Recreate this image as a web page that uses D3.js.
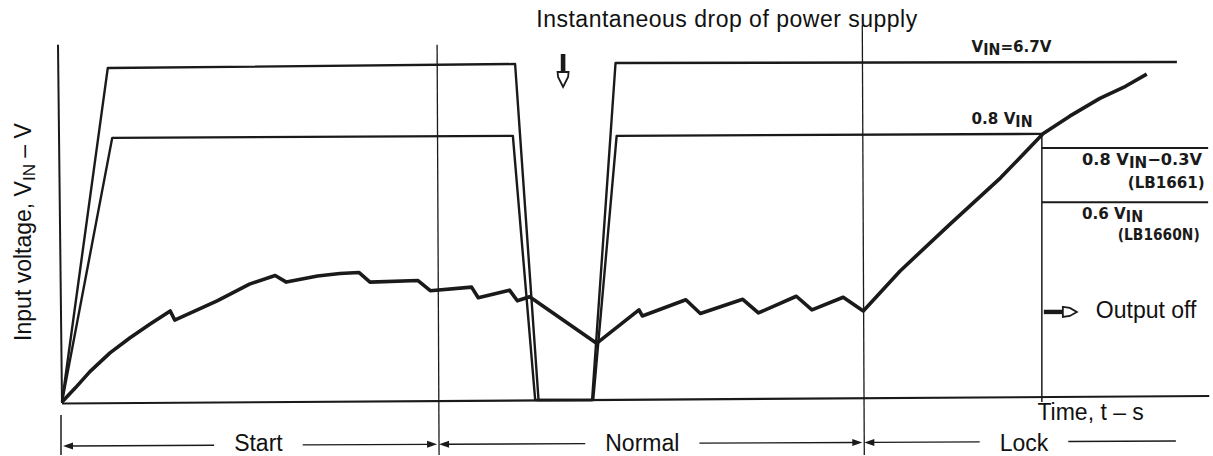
<!DOCTYPE html>
<html lang="en-us">
<head>
<meta charset="utf-8">
<title>Input voltage vs time</title>
<script src="https://d3js.org/d3.v7.min.js"></script>
<style>
  body { margin: 0; background: #fff; }
  .sans { font-family: "Liberation Sans", Arial, sans-serif; font-size: 23px; fill: #111; }
  .tech { font-family: "DejaVu Sans", sans-serif; font-weight: bold; font-size: 16px; fill: #1a1a1a; }
</style>
</head>
<body>
<script>
var width = 1213, height = 456;
var ink = "#1a1a1a";

// time t (s, arbitrary units), voltage v (V)
var vinPulse   = [[0,0],[0.41,6.60],[4.06,6.68],[4.27,0.04],[4.75,0.04],[4.96,6.70],[9.99,6.72]];
var vin08Pulse = [[0,0],[0.45,5.22],[4.04,5.26],[4.24,0.04],[4.76,0.04],[4.97,5.26],[8.78,5.30]];

// detected voltage (thick curve)
var vDetect = [
  [0,0],[0.12,0.28],[0.25,0.60],[0.43,0.97],[0.61,1.27],[0.79,1.54],[0.97,1.80],[1.01,1.62],
  [1.39,2.00],[1.68,2.33],[1.91,2.50],[2.01,2.37],[2.29,2.49],[2.49,2.54],[2.66,2.56],[2.76,2.37],
  [3.19,2.40],[3.30,2.20],[3.67,2.27],[3.73,2.06],[4.01,2.21],[4.08,2.00],[4.19,2.08],[4.79,1.16],
  [5.17,1.82],[5.20,1.70],[5.59,2.02],[5.72,1.75],[6.10,2.03],[6.24,1.76],[6.58,2.09],[6.72,1.82],
  [7.00,2.07],[7.18,1.80],[7.51,2.59],[7.96,3.52],[8.41,4.43],[8.79,5.30],[9.03,5.65],[9.30,6.00],
  [9.53,6.24],[9.72,6.48]
];

var lockT = 8.78;               // 0.8 VIN reached -> output off
var thresholds = [5.02, 3.95];  // 0.8 VIN - 0.3V, 0.6 VIN
var thresholdEnd = 10.27;
var dividers = [{t: 3.37, top: 7.06}, {t: 7.18, top: 7.45}];
var dropT = 4.49;               // instantaneous drop marker
var outputOffV = 1.78;

var phases = [
  {name: "Start",  t0: 0,    t1: 3.37, labelT: 1.76, endArrow: true},
  {name: "Normal", t0: 3.37, t1: 7.18, labelT: 5.20, endArrow: true},
  {name: "Lock",   t0: 7.18, t1: 9.99, labelT: 8.62, endArrow: false}
];

var techLabels = [
  {parts: [["V"],["IN",1],["=6.7V"]],          t: 8.15, v: 6.92, w: 80},
  {parts: [["0.8 V"],["IN",1]],                t: 8.15, v: 5.50, w: 61},
  {parts: [["0.8 V"],["IN",1],["\u22120.3V"]], t: 9.14, v: 4.68, w: 120},
  {parts: [["(LB1661)"]],                      t: 9.55, v: 4.23, w: 77, fs: 14},
  {parts: [["0.6 V"],["IN",1]],                t: 9.14, v: 3.62, w: 61},
  {parts: [["(LB1660N)"]],                     t: 9.46, v: 3.20, w: 82, fs: 14}
];

var x = d3.scaleLinear().domain([0, 10]).range([62, 1178]);
var y = d3.scaleLinear().domain([0, 6.7]).range([402, 63]);

var svg = d3.select("body").append("svg")
    .attr("width", width)
    .attr("height", height);

var line = d3.line()
    .x(function(d) { return x(d[0]); })
    .y(function(d) { return y(d[1]); });

// axes (hand drawn look: slight tilt)
svg.append("line")
    .attr("x1", x(0)).attr("y1", y(0) + 1)
    .attr("x2", x(0) - 4).attr("y2", y(7.06))
    .attr("stroke", ink).attr("stroke-width", 2);
svg.append("line")
    .attr("x1", x(0)).attr("y1", y(0) + 1.5)
    .attr("x2", x(10.28)).attr("y2", y(0) - 6)
    .attr("stroke", ink).attr("stroke-width", 2.2);

// phase dividers
dividers.forEach(function(d) {
  svg.append("line")
      .attr("x1", x(d.t) - 1).attr("y1", y(d.top))
      .attr("x2", x(d.t) + 1).attr("y2", 455)
      .attr("stroke", ink).attr("stroke-width", 1.3);
});

// output off line and thresholds
svg.append("line")
    .attr("x1", x(lockT)).attr("y1", y(5.30))
    .attr("x2", x(lockT)).attr("y2", y(0))
    .attr("stroke", ink).attr("stroke-width", 1.5);
thresholds.forEach(function(v) {
  svg.append("line")
      .attr("x1", x(lockT)).attr("y1", y(v))
      .attr("x2", x(thresholdEnd)).attr("y2", y(v))
      .attr("stroke", ink).attr("stroke-width", 2);
});

// supply pulses
[vinPulse, vin08Pulse].forEach(function(p) {
  svg.append("path")
      .datum(p)
      .attr("d", line)
      .attr("fill", "none")
      .attr("stroke", ink)
      .attr("stroke-width", 2.4)
      .attr("stroke-linejoin", "round");
});

// detected voltage
svg.append("path")
    .datum(vDetect)
    .attr("d", line)
    .attr("fill", "none")
    .attr("stroke", ink)
    .attr("stroke-width", 3.6)
    .attr("stroke-linejoin", "round");

// instantaneous drop arrow
var ax = x(dropT);
svg.append("rect")
    .attr("x", ax - 2.3).attr("y", 54).attr("width", 4.6).attr("height", 19)
    .attr("fill", ink);
svg.append("path")
    .attr("d", "M" + (ax - 5.5) + ",72 L" + (ax + 5.5) + ",72 L" + (ax + 5) + ",77 L" + ax + ",87 L" + (ax - 5) + ",77 Z")
    .attr("fill", "#fff").attr("stroke", ink).attr("stroke-width", 1.8);

svg.append("text")
    .attr("class", "sans")
    .attr("x", x(4.25)).attr("y", 27)
    .attr("letter-spacing", 0.5)
    .text("Instantaneous drop of power supply");

// output off arrow
var oy = y(outputOffV), ox = x(lockT);
svg.append("rect")
    .attr("x", ox + 2).attr("y", oy - 2.2).attr("width", 19).attr("height", 4.4)
    .attr("fill", ink);
svg.append("path")
    .attr("d", "M" + (ox + 21) + "," + (oy - 5) + " L" + (ox + 28) + "," + (oy - 4) + " L" + (ox + 35) + "," + oy +
               " L" + (ox + 28) + "," + (oy + 4) + " L" + (ox + 21) + "," + (oy + 5) + " Z")
    .attr("fill", "#fff").attr("stroke", ink).attr("stroke-width", 1.8);
svg.append("text")
    .attr("class", "sans")
    .attr("x", ox + 54).attr("y", oy + 6)
    .text("Output off");

// technical labels
techLabels.forEach(function(l) {
  var t = svg.append("text")
      .attr("class", "tech")
      .attr("x", x(l.t)).attr("y", y(l.v))
      .attr("textLength", l.w)
      .attr("lengthAdjust", "spacingAndGlyphs");
  if (l.fs) t.attr("font-size", l.fs);
  l.parts.forEach(function(p) {
    var s = t.append("tspan").text(p[0]);
    if (p[1]) s.attr("dy", 3).attr("font-size", 15);
    else if (t.selectAll("tspan").size() > 1) s.attr("dy", -3);
  });
});

// y axis title
var yt = svg.append("text")
    .attr("class", "sans")
    .attr("text-anchor", "middle")
    .attr("transform", "translate(31,232) rotate(-90)");
yt.append("tspan").text("Input voltage, V");
yt.append("tspan").text("IN").attr("font-size", 17).attr("dy", 4);
yt.append("tspan").text(" \u2013 V").attr("dy", -4);

// x axis title
svg.append("text")
    .attr("class", "sans")
    .attr("x", x(8.74)).attr("y", 420)
    .text("Time, t \u2013 s");

// phase dimension lines
function dimY(px) { return 446 - (px - 62) * 5 / 1115; }
function arrowHead(px, dir) {
  var yy = dimY(px);
  return "M" + px + "," + yy + " L" + (px + dir * 10) + "," + (yy - 3.5) + " L" + (px + dir * 10) + "," + (yy + 3.5) + " Z";
}

svg.append("line")
    .attr("x1", x(0) - 1).attr("y1", 415)
    .attr("x2", x(0) - 1).attr("y2", 455)
    .attr("stroke", ink).attr("stroke-width", 1.5);

phases.forEach(function(p) {
  var lx = x(p.labelT);
  var label = svg.append("text")
      .attr("class", "sans")
      .attr("text-anchor", "middle")
      .attr("x", lx).attr("y", 451)
      .text(p.name);
  var half = label.node().getComputedTextLength() / 2 + 20;
  var a = x(p.t0) + 1, b = x(p.t1) - 1;
  [[a + 8, lx - half], [lx + half, p.endArrow ? b - 8 : b]].forEach(function(s) {
    svg.append("line")
        .attr("x1", s[0]).attr("y1", dimY(s[0]))
        .attr("x2", s[1]).attr("y2", dimY(s[1]))
        .attr("stroke", ink).attr("stroke-width", 1.4);
  });
  svg.append("path").attr("d", arrowHead(a, 1)).attr("fill", ink);
  if (p.endArrow) svg.append("path").attr("d", arrowHead(b, -1)).attr("fill", ink);
});
</script>
</body>
</html>
